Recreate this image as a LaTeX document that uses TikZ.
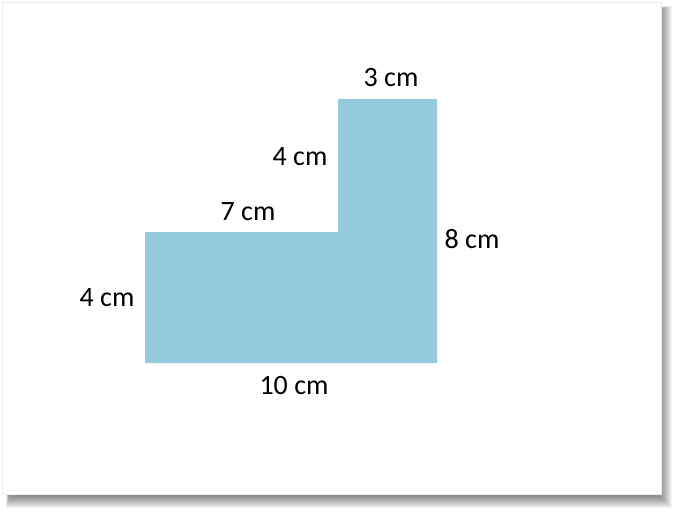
\documentclass[tikz,border=0pt]{standalone}
\usepackage{fontspec}
\setmainfont{Carlito}
\definecolor{shapeblue}{HTML}{96CBDD}
\begin{document}
\begin{tikzpicture}[x=1pt,y=-1pt,
  lbl/.style={font=\fontsize{28}{32}\selectfont, text=black, inner sep=0pt}]
\useasboundingbox (0,0) rectangle (690,519);
\fill[white] (0,0) rectangle (690,519);
% soft shadow
\foreach \i in {0,1,...,11}{
  \fill[black, opacity=0.045] (6+\i*0.3,6+\i*0.3) rectangle (672-\i,508-\i);
}
\fill[white] (2,2) rectangle (661,494);
\draw[black!8, line width=0.8] (2.5,2.5) rectangle (661,494);
% shape
\fill[shapeblue] (145,363) -- (437,363) -- (437,99) -- (338,99) -- (338,232) -- (145,232) -- cycle;
% labels
\node[lbl] (top) at (391,78) {3 cm};
\node[lbl] (up) at (300,157) {4 cm};
\node[lbl] (seven) at (248,212) {7 cm};
\node[lbl] (eight) at (472,239) {8 cm};
\node[lbl] (left) at (107,298) {4 cm};
\node[lbl] (bottom) at (294,386) {10 cm};
\end{tikzpicture}
\end{document}
